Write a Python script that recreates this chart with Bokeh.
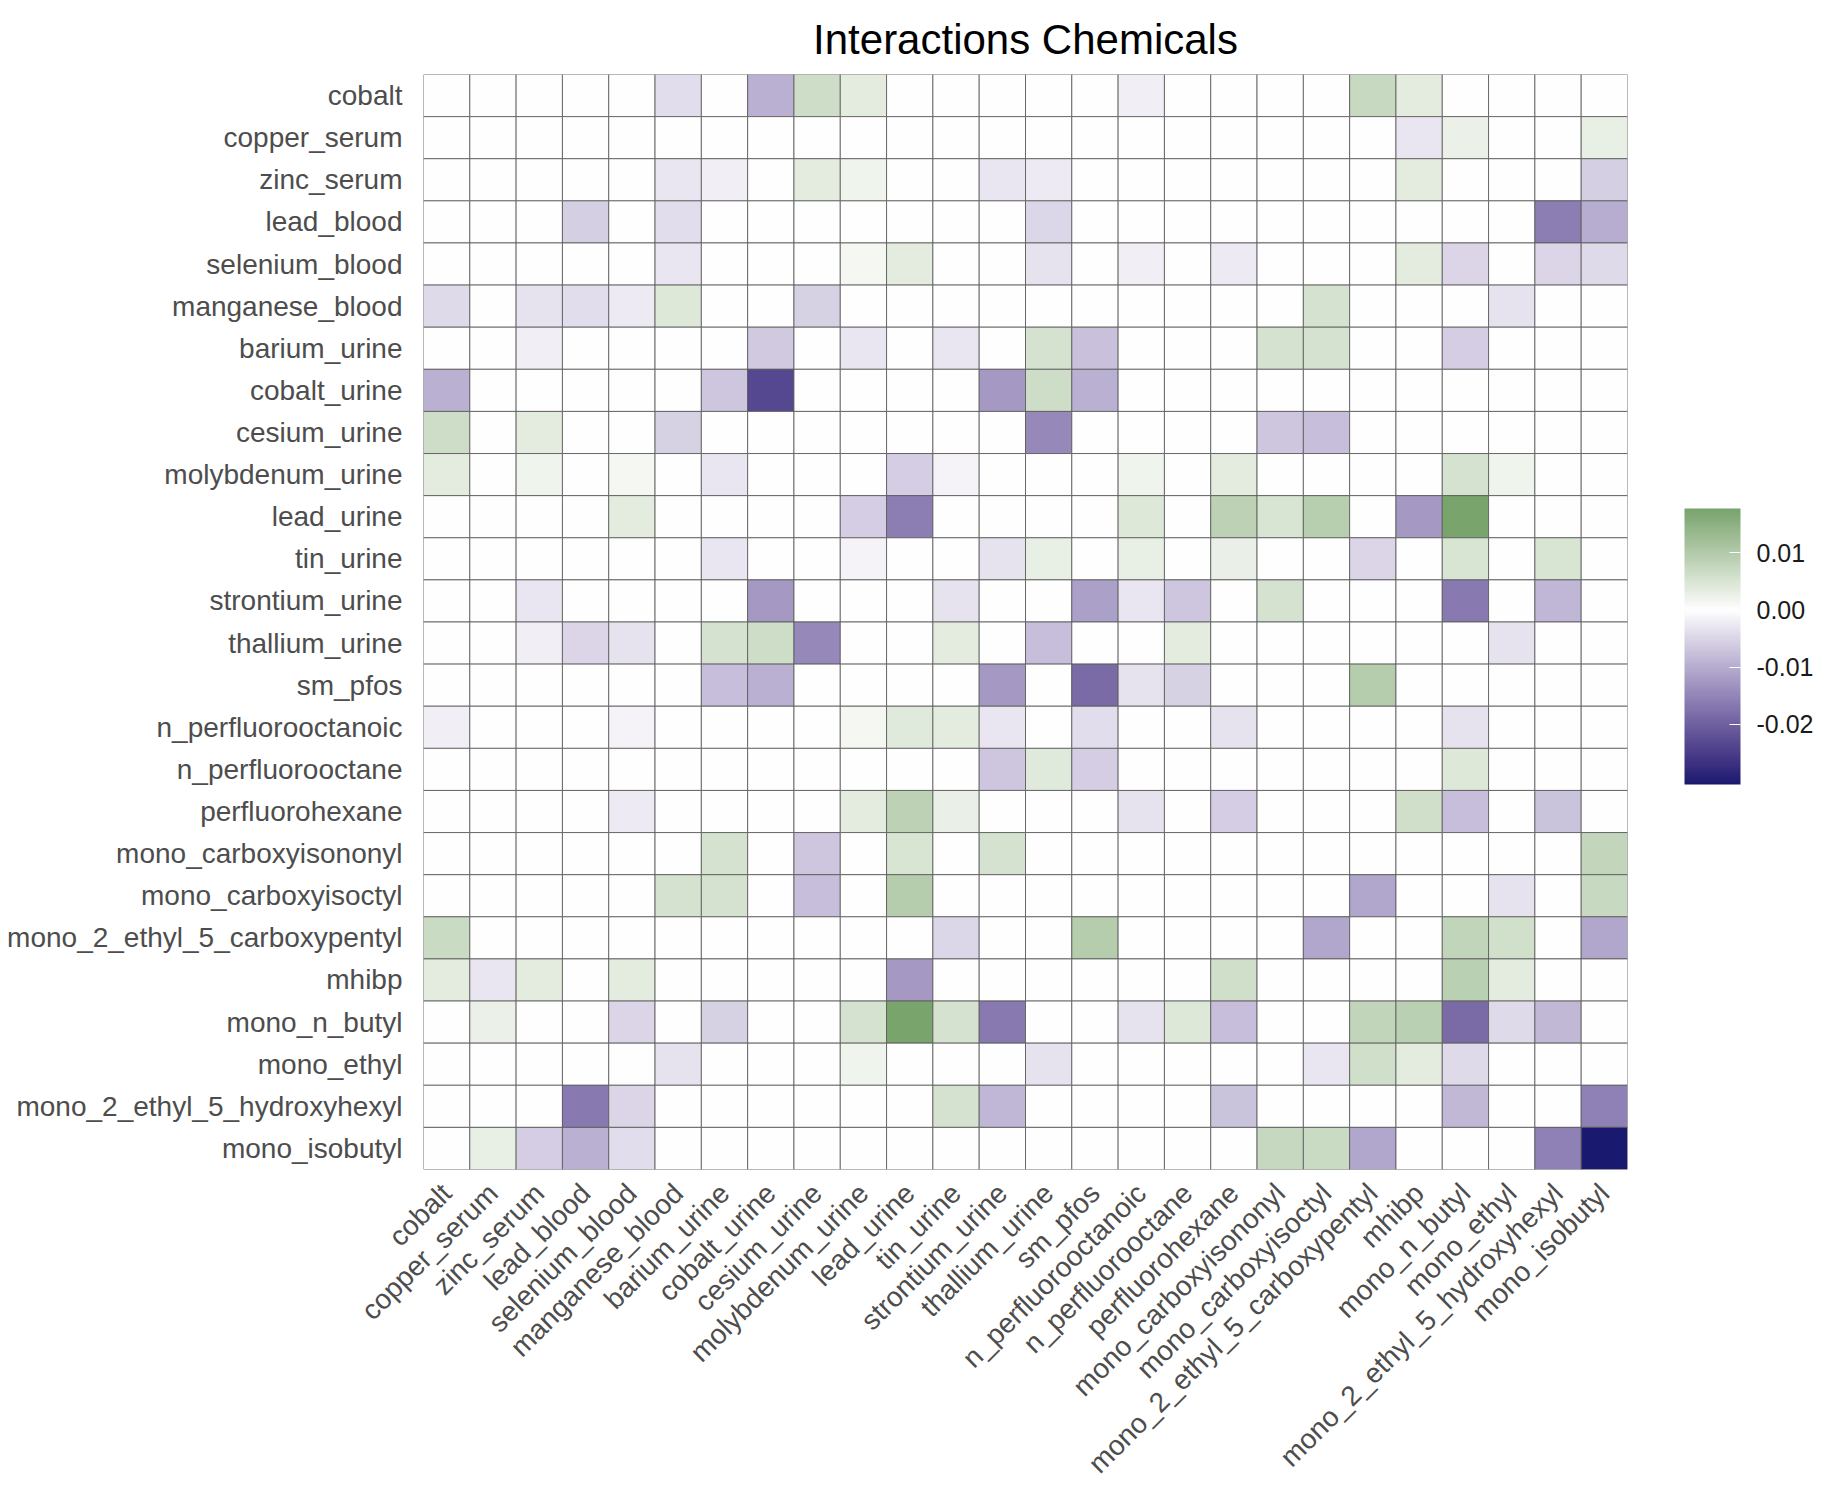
from bokeh.plotting import figure
from bokeh.models import (ColumnDataSource, FactorRange, LinearColorMapper, ColorBar,
                          FixedTicker, PrintfTickFormatter)
from bokeh.embed import file_html
from bokeh.resources import INLINE

# ---- data -----------------------------------------------------------------
chemicals = [
    "cobalt", "copper_serum", "zinc_serum", "lead_blood", "selenium_blood",
    "manganese_blood", "barium_urine", "cobalt_urine", "cesium_urine",
    "molybdenum_urine", "lead_urine", "tin_urine", "strontium_urine",
    "thallium_urine", "sm_pfos", "n_perfluorooctanoic", "n_perfluorooctane",
    "perfluorohexane", "mono_carboxyisononyl", "mono_carboxyisoctyl",
    "mono_2_ethyl_5_carboxypentyl", "mhibp", "mono_n_butyl", "mono_ethyl",
    "mono_2_ethyl_5_hydroxyhexyl", "mono_isobutyl",
]

# one row per chemical (y), columns in the same order as `chemicals` (x)
interactions = [
    # cobalt
    [0, 0, 0, 0, 0, -0.004, 0, -0.0095, 0.0065, 0.0035, 0, 0, 0, 0, 0, -0.002, 0, 0, 0, 0, 0.0072, 0.0035, 0, 0, 0, 0],
    # copper_serum
    [0, 0, 0, 0, 0, 0, 0, 0, 0, 0, 0, 0, 0, 0, 0, 0, 0, 0, 0, 0, 0, -0.003, 0.0025, 0, 0, 0.003],
    # zinc_serum
    [0, 0, 0, 0, 0, -0.003, -0.002, 0, 0.0035, 0.002, 0, 0, -0.003, -0.0025, 0, 0, 0, 0, 0, 0, 0, 0.0035, 0, 0, 0, -0.0058],
    # lead_blood
    [0, 0, 0, -0.0058, 0, -0.004, 0, 0, 0, 0, 0, 0, 0, -0.0048, 0, 0, 0, 0, 0, 0, 0, 0, 0, 0, -0.016, -0.0098],
    # selenium_blood
    [0, 0, 0, 0, 0, -0.003, 0, 0, 0, 0.0015, 0.0035, 0, 0, -0.0035, 0, -0.002, 0, -0.0025, 0, 0, 0, 0.0035, -0.005, 0, -0.005, -0.0045],
    # manganese_blood
    [-0.0045, 0, -0.0035, -0.004, -0.0025, 0.0045, 0, 0, -0.0055, 0, 0, 0, 0, 0, 0, 0, 0, 0, 0, 0.0055, 0, 0, 0, -0.0035, 0, 0],
    # barium_urine
    [0, 0, -0.002, 0, 0, 0, 0, -0.0065, 0, -0.003, 0, -0.003, 0, 0.0055, -0.0075, 0, 0, 0, 0.0055, 0.0055, 0, 0, -0.006, 0, 0, 0],
    # cobalt_urine
    [-0.0095, 0, 0, 0, 0, 0, -0.0068, -0.0235, 0, 0, 0, 0, -0.0125, 0.0065, -0.0095, 0, 0, 0, 0, 0, 0, 0, 0, 0, 0, 0],
    # cesium_urine
    [0.0065, 0, 0.0035, 0, 0, -0.0055, 0, 0, 0, 0, 0, 0, 0, -0.0145, 0, 0, 0, 0, -0.0068, -0.0078, 0, 0, 0, 0, 0, 0],
    # molybdenum_urine
    [0.0035, 0, 0.002, 0, 0.0015, 0, -0.003, 0, 0, 0, -0.006, -0.0015, 0, 0, 0, 0.002, 0, 0.0035, 0, 0, 0, 0, 0.0055, 0.002, 0, 0],
    # lead_urine
    [0, 0, 0, 0, 0.0035, 0, 0, 0, 0, -0.006, -0.016, 0, 0, 0, 0, 0.0045, 0, 0.0085, 0.005, 0.0093, 0, -0.0125, 0.0177, 0, 0, 0],
    # tin_urine
    [0, 0, 0, 0, 0, 0, -0.003, 0, 0, -0.0015, 0, 0, -0.0035, 0.003, 0, 0.003, 0, 0.0028, 0, 0, -0.005, 0, 0.005, 0, 0.005, 0],
    # strontium_urine
    [0, 0, -0.003, 0, 0, 0, 0, -0.0125, 0, 0, 0, -0.0035, 0, 0, -0.0115, -0.003, -0.0068, 0, 0.0055, 0, 0, 0, -0.0165, 0, -0.0088, 0],
    # thallium_urine
    [0, 0, -0.002, -0.005, -0.0035, 0, 0.0055, 0.0065, -0.0145, 0, 0, 0.0035, 0, -0.0078, 0, 0, 0.0035, 0, 0, 0, 0, 0, 0, -0.0035, 0, 0],
    # sm_pfos
    [0, 0, 0, 0, 0, 0, -0.0078, -0.0095, 0, 0, 0, 0, -0.0125, 0, -0.0185, -0.0035, -0.0055, 0, 0, 0, 0.0095, 0, 0, 0, 0, 0],
    # n_perfluorooctanoic
    [-0.002, 0, 0, 0, -0.0015, 0, 0, 0, 0, 0.0015, 0.004, 0.0035, -0.003, 0, -0.004, 0, 0, -0.0035, 0, 0, 0, 0, -0.0035, 0, 0, 0],
    # n_perfluorooctane
    [0, 0, 0, 0, 0, 0, 0, 0, 0, 0, 0, 0, -0.0068, 0.004, -0.006, 0, 0, 0, 0, 0, 0, 0, 0.0045, 0, 0, 0],
    # perfluorohexane
    [0, 0, 0, 0, -0.0025, 0, 0, 0, 0, 0.0035, 0.0085, 0.0028, 0, 0, 0, -0.0035, 0, -0.006, 0, 0, 0, 0.0062, -0.0078, 0, -0.0072, 0],
    # mono_carboxyisononyl
    [0, 0, 0, 0, 0, 0, 0.0055, 0, -0.0068, 0, 0.005, 0, 0.0055, 0, 0, 0, 0, 0, 0, 0, 0, 0, 0, 0, 0, 0.0078],
    # mono_carboxyisoctyl
    [0, 0, 0, 0, 0, 0.0055, 0.0055, 0, -0.0078, 0, 0.0095, 0, 0, 0, 0, 0, 0, 0, 0, 0, -0.0108, 0, 0, -0.0035, 0, 0.0072],
    # mono_2_ethyl_5_carboxypentyl
    [0.0068, 0, 0, 0, 0, 0, 0, 0, 0, 0, 0, -0.0048, 0, 0, 0.0095, 0, 0, 0, 0, -0.0108, 0, 0, 0.008, 0.006, 0, -0.0108],
    # mhibp
    [0.0035, -0.003, 0.0035, 0, 0.0035, 0, 0, 0, 0, 0, -0.0125, 0, 0, 0, 0, 0, 0, 0.0062, 0, 0, 0, 0, 0.009, 0.0035, 0, 0],
    # mono_n_butyl
    [0, 0.0025, 0, 0, -0.005, 0, -0.0055, 0, 0, 0.0055, 0.0177, 0.0055, -0.0165, 0, 0, -0.0035, 0.0045, -0.0078, 0, 0, 0.008, 0.009, -0.0185, -0.0045, -0.0085, 0],
    # mono_ethyl
    [0, 0, 0, 0, 0, -0.0035, 0, 0, 0, 0.002, 0, 0, 0, -0.0035, 0, 0, 0, 0, 0, -0.003, 0.0062, 0.0035, -0.0045, 0, 0, 0],
    # mono_2_ethyl_5_hydroxyhexyl
    [0, 0, 0, -0.0165, -0.005, 0, 0, 0, 0, 0, 0, 0.0055, -0.0088, 0, 0, 0, 0, -0.0072, 0, 0, 0, 0, -0.0085, 0, 0, -0.0155],
    # mono_isobutyl
    [0, 0.003, -0.006, -0.0095, -0.004, 0, 0, 0, 0, 0, 0, 0, 0, 0, 0, 0, 0, 0, 0.0075, 0.0068, -0.0108, 0, 0, 0, -0.0155, -0.0305],
]

colorbar_ticks = [-0.02, -0.01, 0.0, 0.01]
low_color, mid_color, high_color = "#191970", "#ffffff", "#006400"

# ---- diverging palette, interpolated in CIE Lab around zero ---------------
def _hex_to_lab(h):
    rgb = [int(h[i:i + 2], 16) / 255.0 for i in (1, 3, 5)]
    lin = [c / 12.92 if c <= 0.04045 else ((c + 0.055) / 1.055) ** 2.4 for c in rgb]
    x = (0.4124 * lin[0] + 0.3576 * lin[1] + 0.1805 * lin[2]) / 0.95047
    y = (0.2126 * lin[0] + 0.7152 * lin[1] + 0.0722 * lin[2])
    z = (0.0193 * lin[0] + 0.1192 * lin[1] + 0.9505 * lin[2]) / 1.08883
    f = lambda t: t ** (1 / 3) if t > 0.008856 else 7.787 * t + 16 / 116
    fx, fy, fz = f(x), f(y), f(z)
    return (116 * fy - 16, 500 * (fx - fy), 200 * (fy - fz))


def _lab_to_hex(lab):
    L, a, b = lab
    fy = (L + 16) / 116
    fx = fy + a / 500
    fz = fy - b / 200
    finv = lambda t: t ** 3 if t ** 3 > 0.008856 else (t - 16 / 116) / 7.787
    x, y, z = finv(fx) * 0.95047, finv(fy), finv(fz) * 1.08883
    lin = [3.2406 * x - 1.5372 * y - 0.4986 * z,
           -0.9689 * x + 1.8758 * y + 0.0415 * z,
           0.0557 * x - 0.2040 * y + 1.0570 * z]
    out = []
    for c in lin:
        c = max(0.0, min(1.0, c))
        c = 12.92 * c if c <= 0.0031308 else 1.055 * c ** (1 / 2.4) - 0.055
        out.append(int(round(c * 255)))
    return "#%02x%02x%02x" % tuple(out)


flat = [v for row in interactions for v in row]
vmin, vmax = min(flat), max(flat)
span = max(abs(vmin), abs(vmax))
lab_low, lab_mid, lab_high = _hex_to_lab(low_color), _hex_to_lab(mid_color), _hex_to_lab(high_color)
n_colors = 256
palette = []
for i in range(n_colors):
    v = vmin + (vmax - vmin) * i / (n_colors - 1)
    t = abs(v) / span
    end = lab_low if v < 0 else lab_high
    palette.append(_lab_to_hex(tuple(m + (e - m) * t for m, e in zip(lab_mid, end))))

mapper = LinearColorMapper(palette=palette, low=vmin, high=vmax)

# ---- long-format table ----------------------------------------------------
xs, ys, vals = [], [], []
for r, row_name in enumerate(chemicals):
    for c, col_name in enumerate(chemicals):
        xs.append(col_name)
        ys.append(row_name)
        vals.append(interactions[r][c])
source = ColumnDataSource(dict(x=xs, y=ys, value=vals))

# ---- figure ---------------------------------------------------------------
FONT = "Liberation Sans"
p = figure(
    width=1844, height=1492,
    x_range=FactorRange(factors=chemicals),
    y_range=FactorRange(factors=list(reversed(chemicals))),
    output_backend="svg", toolbar_location=None,
    min_border_left=423, min_border_right=217,
    min_border_top=74, min_border_bottom=322,
    title="Interactions Chemicals",
)
p.title.align = "center"
p.title.text_font = FONT
p.title.text_font_size = "42px"
p.title.text_line_height = 1.0
p.title.text_font_style = "normal"
p.title.text_color = "black"
p.title.standoff = 24

p.rect(x="x", y="y", width=1, height=1, source=source,
       fill_color={"field": "value", "transform": mapper},
       line_color="#5a5a5a", line_width=1, line_alpha=0.85)

p.outline_line_color = None
p.grid.grid_line_color = None
for ax in (p.xaxis, p.yaxis):
    ax.axis_line_color = None
    ax.major_tick_line_color = None
    ax.major_tick_in = 0
    ax.major_tick_out = 0
    ax.major_label_text_font = FONT
    ax.major_label_text_font_size = "28px"
    ax.major_label_text_color = "#4d4d4d"
p.yaxis.major_label_standoff = 21
p.xaxis.major_label_standoff = 19
p.xaxis.major_label_orientation = 0.785398

color_bar = ColorBar(
    color_mapper=mapper,
    ticker=FixedTicker(ticks=colorbar_ticks),
    formatter=PrintfTickFormatter(format="%.2f"),
    width=56, height=276,
    location=(57, 385), padding=0, margin=0,
    label_standoff=16,
    major_label_text_font=FONT,
    major_label_text_font_size="25px",
    major_label_text_color="#1a1a1a",
    major_tick_line_color="white", major_tick_in=11, major_tick_out=0,
    bar_line_color=None, border_line_color=None,
    background_fill_color=None,
)
p.add_layout(color_bar, "right")

open("out.html", "w").write(file_html(p, INLINE))
